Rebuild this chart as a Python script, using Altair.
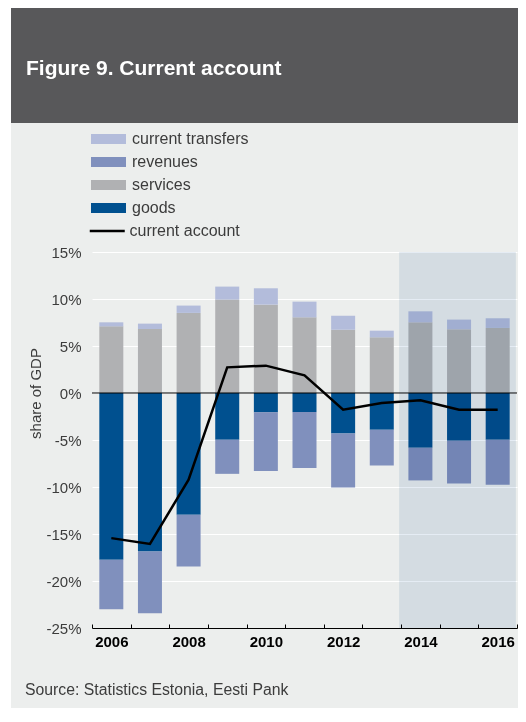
import altair as alt
import pandas as pd

# ---------------- data ----------------
years = [2006, 2007, 2008, 2009, 2010, 2011, 2012, 2013, 2014, 2015, 2016]
goods = [-17.75, -16.87, -12.96, -4.97, -2.06, -2.03, -4.30, -3.91, -5.83, -5.08, -4.97]
revenues = [-5.25, -6.56, -5.50, -3.63, -6.25, -5.96, -5.75, -3.80, -3.47, -4.54, -4.79]
services = [7.09, 6.81, 8.52, 9.94, 9.40, 8.05, 6.74, 5.92, 7.52, 6.78, 6.92]
transfers = [0.43, 0.57, 0.78, 1.38, 1.74, 1.67, 1.49, 0.71, 1.17, 1.03, 1.03]
current_account = [-15.44, -16.05, -9.23, 2.73, 2.91, 1.88, -1.78, -1.07, -0.78, -1.78, -1.78]

series_names = ["current transfers", "revenues", "services", "goods"]
series_colors = ["#b3bcdb", "#8090bd", "#b0b1b3", "#00508f"]
stack_rank = {"goods": 1, "revenues": 2, "services": 1, "current transfers": 2}

forecast_start = [2013.45]
forecast_end = [2016.47]

label_years = [2006, 2008, 2010, 2012, 2014, 2016]
year_bounds = [2005.5 + i for i in range(12)]
y_ticks = [-25, -20, -15, -10, -5, 0, 5, 10, 15]

title_text = ["Figure 9. Current account"]
source_text = ["Source: Statistics Estonia, Eesti Pank"]

# ---------------- tables ----------------
rows = []
for i, yr in enumerate(years):
    for name, vals in [("goods", goods), ("revenues", revenues),
                       ("services", services), ("current transfers", transfers)]:
        v = vals[i]
        rows.append({"year": yr, "series": name, "value": v,
                     "sign": "pos" if v >= 0 else "neg", "rank": stack_rank[name]})
bars_df = pd.DataFrame(rows)
line_df = pd.DataFrame({"year": years, "value": current_account,
                        "name": ["current account"] * len(years)})
shade_df = pd.DataFrame({"x0": forecast_start, "x1": forecast_end})
one = pd.DataFrame({"a": [0]})

FONT = "Liberation Sans"
TXT = "#3c3c3c"
W, H = 425, 376

xscale = alt.Scale(domain=[2005.5, 2016.5], nice=False, zero=False, padding=0)
yscale = alt.Scale(domain=[-25, 15], nice=False, padding=0)
yaxis = alt.Axis(values=y_ticks, labelExpr="datum.value + '%'", grid=True,
                 gridColor="white", gridWidth=1, domain=False, ticks=False,
                 labelPadding=11, labelFontSize=15, labelColor=TXT, labelFont=FONT,
                 title="share of GDP", titleFont=FONT, titleFontSize=15,
                 titleFontWeight="normal", titleColor=TXT, titleAngle=270,
                 titleX=-57, titleY=141, titleAlign="center", titleBaseline="middle")

# ---------------- decorations ----------------
header = alt.Chart(one).mark_rect(color="#58585a").encode(
    x=alt.value(-84), x2=alt.value(440), y=alt.value(-244), y2=alt.value(-129))
strip = alt.Chart(one).mark_rect(color="white").encode(
    x=alt.value(-84), x2=alt.value(-81), y=alt.value(-244), y2=alt.value(470))
title = alt.Chart(pd.DataFrame({"t": title_text})).mark_text(
    align="left", baseline="alphabetic", font=FONT, fontSize=21,
    fontWeight="bold", color="white").encode(
    x=alt.value(-66), y=alt.value(-177), text="t:N")
source = alt.Chart(pd.DataFrame({"t": source_text})).mark_text(
    align="left", baseline="alphabetic", font=FONT, fontSize=15.8, color=TXT).encode(
    x=alt.value(-67), y=alt.value(443), text="t:N")

# ---------------- data layers ----------------
bars = alt.Chart(bars_df).transform_stack(
    stack="value", as_=["y0", "y1"], groupby=["year", "sign"],
    sort=[alt.SortField("rank", order="ascending")]
).mark_bar(width=24).encode(
    x=alt.X("year:Q", scale=xscale,
            axis=alt.Axis(orient="bottom", values=label_years, format="d",
                          labelFontWeight="bold", labelFontSize=15, labelFont=FONT,
                          labelColor="black", ticks=False, domain=True,
                          domainColor="black", domainWidth=1, labelPadding=6,
                          grid=False, title=None)),
    y=alt.Y("y0:Q", scale=yscale, axis=yaxis),
    y2="y1:Q",
    color=alt.Color("series:N",
                    scale=alt.Scale(domain=series_names, range=series_colors),
                    legend=alt.Legend(orient="none", legendX=8.5, legendY=-121,
                                      title=None, symbolType="M-3.5,-1H3.5V1H-3.5Z",
                                      symbolSize=100, symbolStrokeWidth=0,
                                      labelOffset=15.5, rowPadding=7, padding=0,
                                      labelFont=FONT, labelFontSize=16,
                                      labelColor=TXT)),
)

zero = alt.Chart(one).mark_rule(color="black", strokeWidth=1).encode(
    y=alt.datum(0, scale=yscale, axis=yaxis))

shade = alt.Chart(shade_df).mark_rect(color="#e5ecf4", blend="multiply").encode(
    x=alt.X("x0:Q", scale=xscale,
            axis=alt.Axis(orient="bottom", values=year_bounds, labels=False,
                          domain=False, ticks=True, tickSize=4, tickColor="black",
                          tickWidth=1, offset=-4, grid=False, title=None)),
    x2="x1:Q",
    y=alt.datum(15, scale=yscale, axis=yaxis),
    y2=alt.datum(-25),
)

line = alt.Chart(line_df).mark_line(strokeWidth=2.5).encode(
    x=alt.X("year:Q", scale=xscale, axis=None),
    y=alt.Y("value:Q", scale=yscale, axis=yaxis),
    stroke=alt.Stroke("name:N",
                      scale=alt.Scale(domain=["current account"], range=["black"]),
                      legend=alt.Legend(orient="none", legendX=7.25, legendY=-29,
                                        title=None, symbolType="M-3.5,0H3.5",
                                        symbolSize=100, symbolStrokeWidth=2.5,
                                        symbolFillColor="transparent",
                                        labelOffset=14.25, padding=0,
                                        labelFont=FONT, labelFontSize=16,
                                        labelColor=TXT)),
)

chart = alt.layer(header, strip, title, source, bars, zero, shade, line).resolve_axis(
    x="independent"
).properties(
    width=W, height=H,
    padding={"left": 84, "top": 244, "right": 1, "bottom": 80},
    autosize=alt.AutoSizeParams(type="none"),
).configure(background="#eceeed").configure_view(stroke=None)

chart.save("out.html", embed_options={"renderer": "svg", "actions": False})
